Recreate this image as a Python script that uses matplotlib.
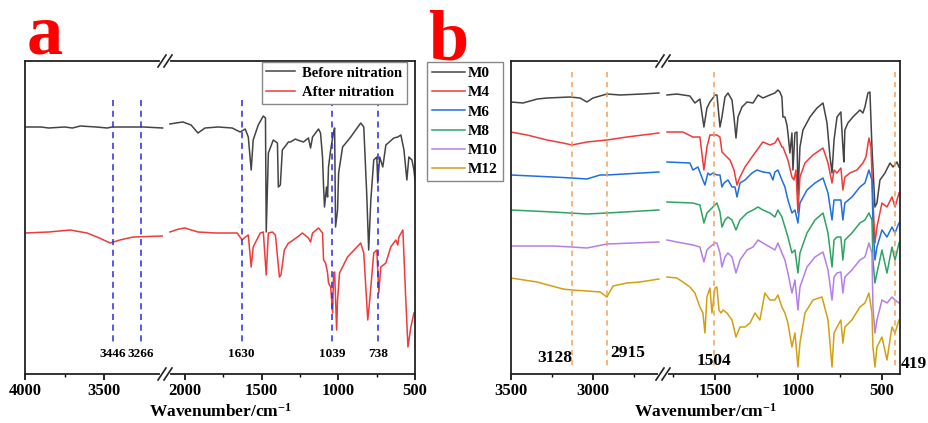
import matplotlib
matplotlib.use('Agg')
import matplotlib.pyplot as plt
from matplotlib.lines import Line2D

plt.rcParams['font.family'] = ['Liberation Serif', 'DejaVu Serif']
plt.rcParams['font.weight'] = 'bold'
plt.rcParams['mathtext.fontset'] = 'custom'
plt.rcParams['mathtext.rm'] = 'Liberation Serif:bold'
plt.rcParams['mathtext.default'] = 'rm'

W, H = 929, 423

# ---- panel a data: (wavenumber, depth) ; depth grows downward on the chart
a_before_left = [(4000, 127), (3900, 127), (3850, 128), (3750, 127), (3700, 128), (3650, 126),
                 (3550, 127), (3480, 128), (3450, 127), (3350, 127), (3250, 127), (3130, 128)]
a_before_right = [(2098, 124), (2060, 123), (2013, 122), (1960, 125), (1915, 133), (1869, 128),
                  (1784, 127), (1692, 128), (1640, 132), (1607, 129), (1587, 137), (1568, 170),
                  (1555, 140), (1522, 125), (1489, 116), (1475, 118), (1470, 232), (1456, 153),
                  (1424, 140), (1397, 143), (1391, 187), (1378, 185), (1365, 150), (1325, 142),
                  (1312, 142), (1280, 139), (1267, 140), (1227, 142), (1195, 138), (1181, 148),
                  (1168, 137), (1129, 129), (1116, 133), (1103, 157), (1096, 187), (1090, 207),
                  (1077, 187), (1070, 197), (1064, 167), (1050, 150), (1031, 132), (1024, 128),
                  (1018, 227), (1005, 210), (998, 173), (972, 147), (919, 137), (854, 123),
                  (834, 127), (815, 193), (802, 250), (788, 200), (769, 160), (749, 157),
                  (743, 183), (730, 157), (710, 167), (690, 145), (638, 138), (612, 137),
                  (592, 135), (572, 150), (553, 180), (540, 157), (520, 160), (507, 170),
                  (500, 180)]
a_after_left = [(4000, 233), (3850, 232), (3715, 230), (3608, 233), (3530, 238), (3462, 243),
                (3400, 240), (3316, 237), (3133, 236)]
a_after_right = [(2098, 232), (2040, 229), (2000, 228), (1915, 232), (1800, 233), (1692, 233),
                 (1660, 233), (1627, 240), (1607, 237), (1587, 235), (1568, 267), (1555, 247),
                 (1509, 233), (1489, 232), (1470, 275), (1456, 233), (1430, 232), (1410, 235),
                 (1384, 277), (1374, 275), (1352, 250), (1325, 243), (1312, 242), (1267, 237),
                 (1234, 233), (1195, 238), (1181, 242), (1168, 233), (1129, 228), (1103, 233),
                 (1096, 260), (1083, 263), (1070, 273), (1064, 283), (1050, 287), (1037, 313),
                 (1031, 273), (1024, 272), (1011, 330), (1005, 300), (992, 273), (940, 257),
                 (854, 243), (834, 253), (808, 320), (795, 300), (769, 253), (749, 250),
                 (736, 293), (723, 267), (690, 263), (658, 247), (625, 240), (612, 245),
                 (605, 237), (579, 230), (560, 300), (546, 347), (527, 327), (507, 313),
                 (500, 312)]
a_marks = [3446, 3266, 1630, 1039, 738]

# ---- panel b data
m0_left = [(3500, 102), (3427, 103), (3340, 99), (3280, 98), (3140, 97), (3079, 98), (3037, 102),
           (3000, 98), (2957, 96), (2915, 94), (2835, 95), (2700, 94), (2598, 93)]
m0_right = [(1787, 95), (1728, 94), (1650, 96), (1620, 103), (1590, 99), (1566, 127), (1548, 108),
            (1530, 102), (1512, 98), (1500, 95), (1488, 95), (1470, 127), (1458, 117), (1440, 97),
            (1422, 93), (1398, 100), (1386, 117), (1374, 138), (1362, 117), (1338, 107),
            (1308, 102), (1272, 103), (1242, 95), (1213, 98), (1171, 95), (1141, 93), (1123, 90),
            (1111, 92), (1099, 97), (1093, 117), (1081, 117), (1069, 125), (1063, 133),
            (1051, 153), (1039, 133), (1033, 170), (1021, 133), (1009, 132), (1003, 195),
            (991, 147), (973, 130), (931, 117), (889, 108), (853, 103), (829, 123), (811, 157),
            (799, 173), (787, 140), (769, 117), (746, 112), (734, 147), (728, 162), (722, 130),
            (704, 123), (674, 117), (632, 110), (614, 113), (602, 107), (584, 93), (572, 92),
            (560, 147), (542, 207), (530, 203), (512, 180), (482, 173), (452, 163), (434, 167),
            (410, 162), (398, 167)]
m4_left = [(3500, 132), (3402, 135), (3280, 140), (3183, 143), (3128, 145), (3037, 142),
           (2915, 140), (2793, 137), (2598, 133)]
m4_right = [(1787, 132), (1692, 132), (1632, 137), (1590, 137), (1566, 170), (1548, 147),
            (1530, 135), (1488, 135), (1470, 137), (1458, 152), (1440, 155), (1410, 160),
            (1386, 170), (1368, 185), (1350, 177), (1320, 167), (1278, 157), (1248, 150),
            (1213, 142), (1171, 145), (1141, 143), (1123, 138), (1099, 147), (1093, 147),
            (1063, 160), (1039, 177), (1027, 180), (1015, 170), (1003, 213), (991, 177),
            (961, 163), (913, 155), (853, 148), (823, 163), (799, 183), (787, 170), (769, 173),
            (746, 168), (734, 190), (722, 177), (692, 173), (650, 170), (614, 163), (596, 157),
            (578, 138), (566, 147), (554, 200), (542, 243), (530, 227), (500, 203), (470, 207),
            (440, 197), (422, 207), (398, 193)]
m6_left = [(3500, 175), (3244, 177), (3128, 178), (3037, 179), (2957, 175), (2915, 175),
           (2598, 172)]
m6_right = [(1787, 162), (1650, 163), (1632, 170), (1602, 167), (1572, 180), (1560, 185),
            (1542, 173), (1530, 175), (1512, 173), (1488, 175), (1470, 175), (1458, 187),
            (1446, 183), (1422, 180), (1398, 187), (1380, 187), (1368, 197), (1350, 183),
            (1320, 180), (1278, 173), (1248, 170), (1213, 172), (1171, 173), (1153, 180),
            (1141, 172), (1123, 170), (1099, 180), (1081, 187), (1063, 200), (1039, 213),
            (1021, 210), (1003, 223), (991, 203), (949, 190), (901, 183), (853, 178), (823, 193),
            (799, 220), (787, 200), (769, 200), (746, 200), (734, 220), (722, 203), (680, 197),
            (632, 187), (602, 183), (578, 170), (560, 180), (554, 223), (542, 260), (530, 247),
            (500, 230), (470, 237), (440, 227), (422, 233), (398, 223)]
m8_left = [(3500, 210), (3244, 212), (3037, 214), (2915, 213), (2598, 210)]
m8_right = [(1787, 202), (1632, 203), (1590, 205), (1566, 223), (1548, 213), (1530, 210),
            (1500, 205), (1488, 203), (1470, 212), (1458, 227), (1440, 220), (1422, 217),
            (1398, 220), (1374, 230), (1350, 220), (1308, 213), (1272, 210), (1242, 207),
            (1213, 210), (1171, 213), (1141, 217), (1123, 210), (1099, 217), (1081, 227),
            (1063, 237), (1039, 253), (1021, 250), (1003, 273), (991, 253), (949, 233),
            (901, 220), (853, 213), (823, 233), (799, 267), (787, 240), (769, 237), (746, 237),
            (734, 260), (722, 240), (680, 233), (632, 223), (602, 220), (578, 213), (560, 220),
            (554, 260), (542, 283), (530, 273), (500, 250), (470, 273), (440, 247), (422, 260),
            (398, 243)]
m10_left = [(3500, 246), (3244, 246), (3128, 247), (3037, 248), (2915, 244), (2598, 242)]
m10_right = [(1787, 240), (1728, 242), (1632, 245), (1590, 247), (1566, 262), (1548, 250),
             (1530, 247), (1500, 243), (1488, 243), (1470, 253), (1458, 267), (1440, 257),
             (1422, 253), (1398, 257), (1374, 273), (1350, 260), (1308, 250), (1272, 247),
             (1242, 240), (1213, 243), (1171, 247), (1141, 250), (1123, 243), (1099, 253),
             (1081, 260), (1063, 273), (1039, 293), (1021, 280), (1003, 310), (991, 287),
             (949, 267), (901, 257), (853, 252), (823, 270), (799, 300), (787, 277), (769, 273),
             (746, 272), (734, 293), (722, 277), (680, 270), (632, 260), (602, 257), (578, 243),
             (560, 253), (554, 307), (542, 333), (530, 320), (500, 300), (470, 303), (440, 297),
             (422, 300), (398, 303)]
m12_left = [(3500, 278), (3341, 282), (3183, 289), (3128, 290), (3037, 291), (2957, 292),
            (2915, 297), (2878, 286), (2793, 283), (2713, 282), (2598, 279)]
m12_right = [(1787, 277), (1728, 278), (1692, 282), (1650, 287), (1620, 293), (1590, 307),
             (1572, 313), (1560, 333), (1548, 297), (1530, 288), (1518, 313), (1500, 288),
             (1488, 287), (1476, 310), (1464, 313), (1452, 310), (1428, 313), (1398, 320),
             (1374, 337), (1350, 327), (1320, 327), (1290, 323), (1260, 313), (1231, 320),
             (1201, 293), (1171, 300), (1141, 300), (1123, 295), (1099, 307), (1081, 313),
             (1063, 323), (1039, 347), (1021, 333), (1003, 367), (991, 343), (961, 313),
             (913, 300), (859, 297), (823, 320), (799, 367), (787, 333), (769, 327), (746, 320),
             (734, 343), (722, 327), (680, 320), (632, 307), (602, 303), (578, 293), (560, 313),
             (554, 347), (542, 367), (530, 347), (500, 337), (470, 360), (440, 327), (422, 333),
             (398, 320)]
b_names = ['M0', 'M4', 'M6', 'M8', 'M10', 'M12']
b_left = [m0_left, m4_left, m6_left, m8_left, m10_left, m12_left]
b_right = [m0_right, m4_right, m6_right, m8_right, m10_right, m12_right]
b_colors = ['#444444', '#ee3b3b', '#1f6fe0', '#2ea363', '#b57fe6', '#d3a012']
b_marks = [3128, 2915, 1504, 419]


def fx(px):
    return px / W


def fy(py):
    return 1 - py / H


def split(pts):
    return [p[0] for p in pts], [p[1] for p in pts]


def make_axes(x0, xb, x1, lim_l, lim_r, top=61, bot=374):
    axl = fig.add_axes([fx(x0), fy(bot), fx(xb - x0), (bot - top) / H])
    axr = fig.add_axes([fx(xb), fy(bot), fx(x1 - xb), (bot - top) / H])
    axl.set_xlim(*lim_l)
    axr.set_xlim(*lim_r)
    for ax in (axl, axr):
        ax.set_ylim(bot, top)  # depth readings, larger = lower on chart
        ax.set_yticks([])
        for s in ax.spines.values():
            s.set_linewidth(1.3)
            s.set_color('#222222')
        ax.tick_params(axis='x', which='major', direction='out', length=4.5, width=1.2,
                       labelsize=12, pad=2)
        ax.tick_params(axis='x', which='minor', direction='out', length=2.5, width=1.0)
        ax.patch.set_alpha(0)
    axl.spines['right'].set_visible(False)
    axr.spines['left'].set_visible(False)
    return axl, axr


def break_mark(px, top=61, bot=374):
    for py in (top, bot):
        fig.add_artist(Line2D([fx(px - 3), fx(px + 3)], [fy(py), fy(py)], color='white',
                              lw=3, zorder=20))
        for dx in (-3, 3):
            fig.add_artist(Line2D([fx(px + dx - 4), fx(px + dx + 4)], [fy(py + 6), fy(py - 6)],
                                  color='#222222', lw=1.2, zorder=21))


fig = plt.figure(figsize=(W / 100, H / 100), dpi=100)

# ---------------- panel a
a_l, a_r = make_axes(25, 165, 415, (4000, 3115), (2130, 500))
a_l.set_xticks([4000, 3500])
a_l.set_xticks([3750], minor=True)
a_r.set_xticks([2000, 1500, 1000, 500])
a_r.set_xticks([1750, 1250, 750], minor=True)

for ax, pts_b, pts_r in ((a_l, a_before_left, a_after_left), (a_r, a_before_right, a_after_right)):
    x, y = split(pts_b)
    ax.plot(x, y, color='#444444', lw=1.1, label='Before nitration')
    x, y = split(pts_r)
    ax.plot(x, y, color='#ee3b3b', lw=1.1, label='After nitration')

for wn in a_marks:
    ax = a_l if wn > 2200 else a_r
    ax.vlines(wn, 100, 345, colors='#2a2ae0', linestyles=(0, (4, 3)), lw=1.1)
    ax.text(wn, 348, str(wn), ha='center', va='top', fontsize=9.5)

handles = [Line2D([], [], color='#444444', lw=1.1), Line2D([], [], color='#ee3b3b', lw=1.1)]
fig.legend(handles, ['Before nitration', 'After nitration'], loc='upper right',
           bbox_to_anchor=(fx(407), fy(62)), fontsize=10.5, frameon=True, fancybox=False,
           edgecolor='#888888', framealpha=1, handlelength=2.0, handletextpad=0.5,
           borderpad=0.3, labelspacing=0.45, borderaxespad=0)

break_mark(165)
fig.text(fx(220), fy(421), 'Wavenumber/cm$^{-1}$', ha='center', va='bottom', fontsize=12.5)
fig.text(fx(27), fy(53), 'a', color='#ff0000', fontsize=52, va='baseline', ha='left')

# ---------------- panel b
b_l, b_r = make_axes(511, 663, 900, (3500, 2573), (1811, 392))
b_l.set_xticks([3500, 3000])
b_l.set_xticks([3250, 2750], minor=True)
b_r.set_xticks([1500, 1000, 500])
b_r.set_xticks([1750, 1250, 750], minor=True)

for name, left, right, col in zip(b_names, b_left, b_right, b_colors):
    x, y = split(left)
    b_l.plot(x, y, color=col, lw=1.1)
    x, y = split(right)
    b_r.plot(x, y, color=col, lw=1.1)

for wn in b_marks:
    ax = b_l if wn > 2000 else b_r
    ax.vlines(wn, 72, 370, colors='#f0a060', linestyles=(0, (3.5, 3)), lw=1.1)

b_l.text(3128, 350, '3128', ha='right', va='top', fontsize=12.5)
b_l.text(2895, 345, '2915', ha='left', va='top', fontsize=12.5)
b_r.text(1504, 353, '1504', ha='center', va='top', fontsize=12.5)
b_r.text(385, 356, '419', ha='left', va='top', fontsize=12.5, clip_on=False)

handles = [Line2D([], [], color=c, lw=1.1) for c in b_colors]
fig.legend(handles, b_names, loc='upper left', bbox_to_anchor=(fx(427), fy(62)), fontsize=11,
           frameon=True, fancybox=False, edgecolor='#888888', framealpha=1,
           handlelength=2.2, handletextpad=0.2, borderpad=0.3, labelspacing=0.36,
           borderaxespad=0)

break_mark(663)
fig.text(fx(705), fy(421), 'Wavenumber/cm$^{-1}$', ha='center', va='bottom', fontsize=12.5)
fig.text(fx(428), fy(60), 'b', color='#ff0000', fontsize=52, va='baseline', ha='left')

fig.savefig('out.png', dpi=100)
